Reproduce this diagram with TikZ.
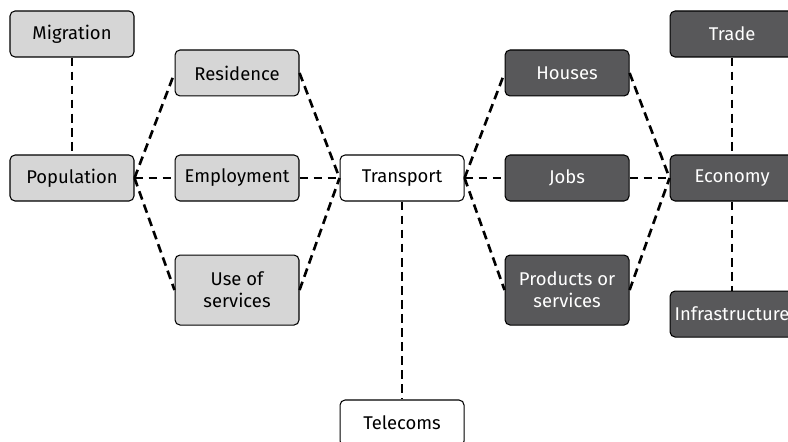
\documentclass[tikz,border=0pt]{standalone}
\usepackage{fontspec}
\setmainfont{Fira Sans}
\usetikzlibrary{positioning}
\definecolor{boxlight}{HTML}{D6D6D6}
\definecolor{boxdark}{HTML}{58585A}

\begin{document}
\begin{tikzpicture}[x=0.02cm,y=-0.02cm]
		\tikzset{box/.style = {shape=rectangle,rounded corners=0.1cm, semithick, draw,align=center,
				minimum width=2.48cm, minimum height=0.92cm, inner sep=1pt, font=\fontsize{10.5}{12.5}\selectfont},
			light/.style = {box, fill=boxlight},
			dark/.style = {box, fill=boxdark, text=white},
			open/.style = {box, fill=white},
			link/.style = {line width=1.5pt, dash pattern=on 5pt off 3pt}}
		\useasboundingbox (0,0) rectangle (788,441);
		% people side
		\node[light] (Population) at (72,178) {Population};
		\node[light, above=1.94cm of Population] (Migration) {Migration};
		\node[light, right=0.8cm of Population] (Employment) {Employment};
		\node[light, above=1.16cm of Employment] (Residence) {Residence};
		\node[light, below=1.06cm of Employment, minimum height=1.4cm] (Services) {Use of\\services};
		% middle
		\node[open, right=0.8cm of Employment] (Transport) {Transport};
		\node[open, below=3.96cm of Transport] (Telecoms) {Telecoms};
		% economy side
		\node[dark, right=0.8cm of Transport] (Jobs) {Jobs};
		\node[dark, above=1.16cm of Jobs] (Houses) {Houses};
		\node[dark, below=1.06cm of Jobs, minimum height=1.4cm] (Products) {Products or\\services};
		\node[dark, right=0.8cm of Jobs] (Economy) {Economy};
		\node[dark, above=1.94cm of Economy] (Trade) {Trade};
		\node[dark, below=1.78cm of Economy] (Infrastructure) {Infrastructure};
		
		\draw[link] (Migration) -- (Population);
		\draw[link] (Population.east) -- (Residence.west);
		\draw[link] (Population.east) -- (Employment.west);
		\draw[link] (Population.east) -- (Services.west);
		\draw[link] (Residence.east) -- (Transport.west);
		\draw[link] (Employment.east) -- (Transport.west);
		\draw[link] (Services.east) -- (Transport.west);
		\draw[link] (Transport) -- (Telecoms);
		\draw[link] (Transport.east) -- (Houses.west);
		\draw[link] (Transport.east) -- (Jobs.west);
		\draw[link] (Transport.east) -- (Products.west);
		\draw[link] (Houses.east) -- (Economy.west);
		\draw[link] (Jobs.east) -- (Economy.west);
		\draw[link] (Products.east) -- (Economy.west);
		\draw[link] (Trade) -- (Economy);
		\draw[link] (Economy) -- (Infrastructure);
\end{tikzpicture}
\end{document}
